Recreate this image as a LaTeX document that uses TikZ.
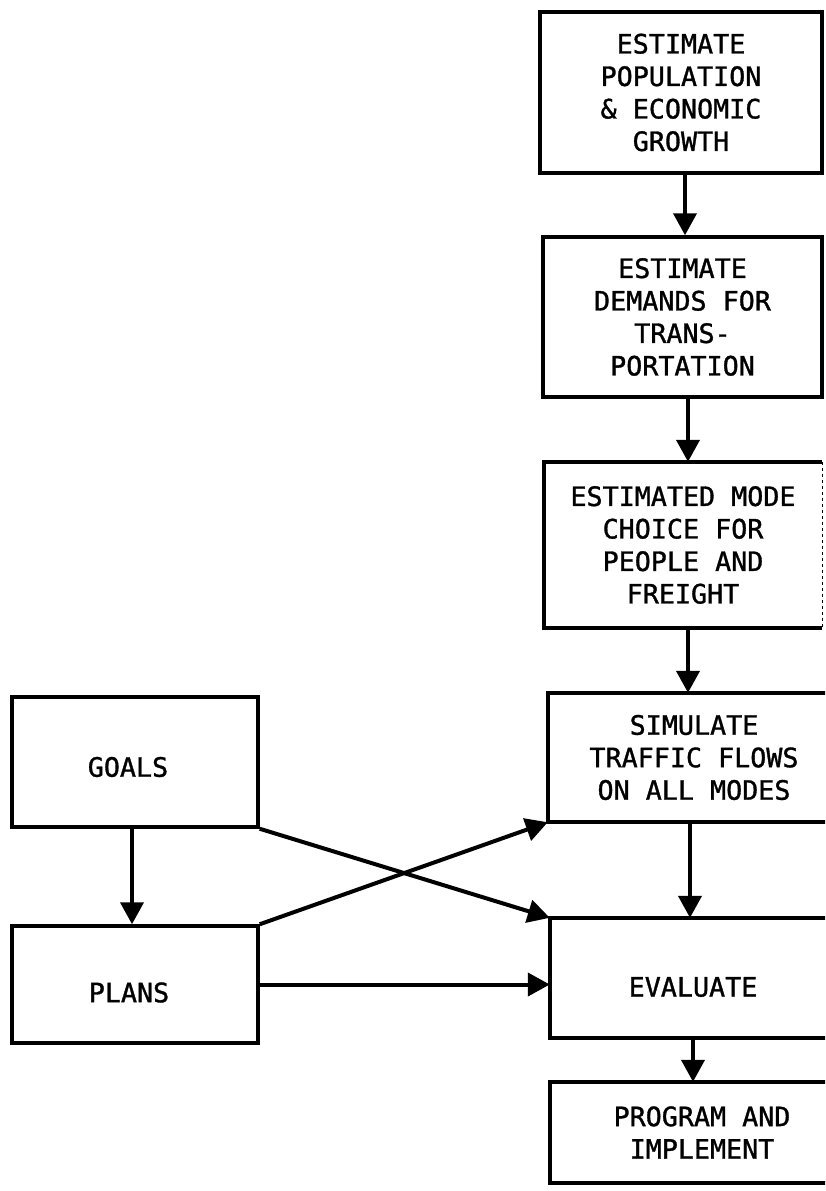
\documentclass[tikz,border=0pt]{standalone}
\usepackage{fontspec}
\newfontfamily\lpfont[FakeBold=1.2]{DejaVu Sans Mono}
\usetikzlibrary{arrows.meta}
\tikzset{
  boxline/.style={line width=3.5pt, line join=miter},
  box/.style={draw, boxline, rectangle, inner sep=0pt, align=center},
  openbox/.style={draw=none, rectangle, inner sep=0pt, align=center},
  txt/.style={font=\lpfont\fontsize{26.7}{32.5}\selectfont},
  arr/.style={line width=4pt, -{Triangle[width=23pt,length=22pt]}},
}
\begin{document}
\begin{tikzpicture}[x=1pt,y=-1pt]
\useasboundingbox (0,0) rectangle (825,1191);
\clip (0,0) rectangle (825,1191);
% right column
\node[box, txt, line width=4.5pt, minimum width=282pt, minimum height=161pt] (pop) at (681,92.5)
  {ESTIMATE\\POPULATION\\\& ECONOMIC\\GROWTH};
\node[box, txt, minimum width=279pt, minimum height=160pt] (dem) at (682.5,317)
  {ESTIMATE\\DEMANDS FOR\\TRANS-\\PORTATION};
\node[openbox, txt, minimum width=278pt, minimum height=166pt] (mode) at (683,545)
  {ESTIMATED MODE\\CHOICE FOR\\PEOPLE AND\\FREIGHT};
\draw[boxline] (mode.north east) -- (mode.north west) -- (mode.south west) -- (mode.south east);
\draw[line width=1pt, dashed] (mode.north east) -- (mode.south east);
\node[openbox, txt, minimum width=292pt, minimum height=129pt] (sim) at (694,757.5)
  {SIMULATE\\TRAFFIC FLOWS\\ON ALL MODES};
\draw[boxline] (sim.north east) -- (sim.north west) -- (sim.south west) -- (sim.south east);
\node[openbox, minimum width=286pt, minimum height=120pt,
  label={[txt, yshift=-9pt]center:EVALUATE}] (eval) at (693,978) {};
\draw[boxline] (eval.north east) -- (eval.north west) -- (eval.south west) -- (eval.south east);
\node[openbox, txt, minimum width=304pt, minimum height=101pt] (prog) at (702,1132.5)
  {PROGRAM AND\\IMPLEMENT};
\draw[boxline] (prog.north east) -- (prog.north west) -- (prog.south west) -- (prog.south east);
% left column
\node[box, minimum width=246pt, minimum height=130pt,
  label={[txt, xshift=-7pt, yshift=-5pt]center:GOALS}] (goals) at (135,762) {};
\node[box, minimum width=246pt, minimum height=117pt,
  label={[txt, xshift=-6pt, yshift=-8pt]center:PLANS}] (plans) at (135,984.5) {};
% connectors
\draw[arr] (pop.south -| 685,0) -- (dem.north -| 685,0);
\draw[arr] (dem.south -| 688,0) -- (mode.north -| 688,0);
\draw[arr] (mode.south -| 688,0) -- (sim.north -| 688,0);
\draw[arr] (sim.south -| 690,0) -- (eval.north -| 690,0);
\draw[arr] (eval.south -| 693,0) -- (prog.north -| 693,0);
\draw[arr] (goals.south -| 132,0) -- (plans.north -| 132,0);
\draw[arr] (goals.south east) -- (eval.north west);
\draw[arr] (plans.north east) -- (sim.south west);
\draw[arr] (plans.east) -- (plans.east -| eval.west);
\end{tikzpicture}
\end{document}
